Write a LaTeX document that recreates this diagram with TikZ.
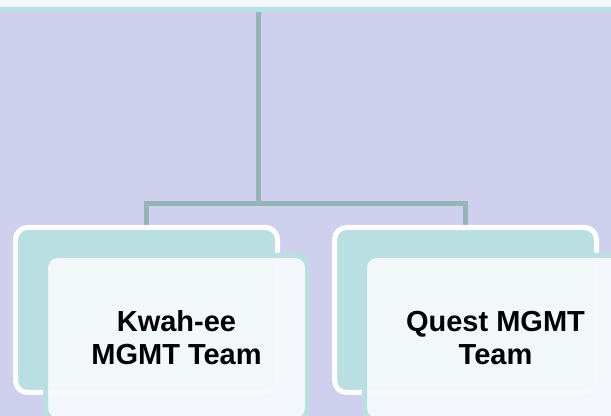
\documentclass[tikz,border=0pt]{standalone}
\usepackage{fontspec}
\setmainfont{Liberation Sans}
\usepackage{tikz}
\usetikzlibrary{backgrounds}

\definecolor{lavbg}{RGB}{206,208,238}
\definecolor{tealfill}{RGB}{186,223,226}
\definecolor{tealline}{RGB}{150,179,182}
\definecolor{paper}{RGB}{246,249,251}

\tikzset{
	backbox/.style={rectangle, rounded corners=9pt, draw=white, line width=3.75pt, fill=tealfill,
		minimum width=196.5pt, minimum height=123.75pt, inner sep=0pt},
	teambox/.style={rectangle, rounded corners=9pt, draw=tealfill, line width=3.75pt, fill=paper, fill opacity=0.94,
		text opacity=1, minimum width=196.5pt, minimum height=123.75pt, inner sep=0pt, align=center,
		font=\fontsize{21.75pt}{24.75pt}\selectfont\bfseries},
	link/.style={draw=tealline, line width=3.75pt}
}

\begin{document}
\begin{tikzpicture}[x=0.75pt,y=-0.75pt]
	\clip (0,0) rectangle (611,416);

	\coordinate (fork) at (258.5,204);
	\node[teambox, minimum width=480pt, minimum height=75pt] (parent) at (305.5,-40.5) {};	%top box, cut off

	\node[backbox] (backA) at (146.5,310) {};
	\node[backbox] (backB) at (465.5,310) {};

	%team boxes
	\node[teambox] (teamA) at (176.5,338) {Kwah-ee\\MGMT Team};
	\node[teambox] (teamB) at (495.5,338) {Quest MGMT\\Team};

	\begin{pgfonlayer}{background}
		\fill[lavbg] (0,0) rectangle (611,416);
		%connectors
		\draw[link] (parent.south -| fork) -- (fork);
		\draw[link] (backA.north) |- (fork) -| (backB.north);
	\end{pgfonlayer}
\end{tikzpicture}
\end{document}
